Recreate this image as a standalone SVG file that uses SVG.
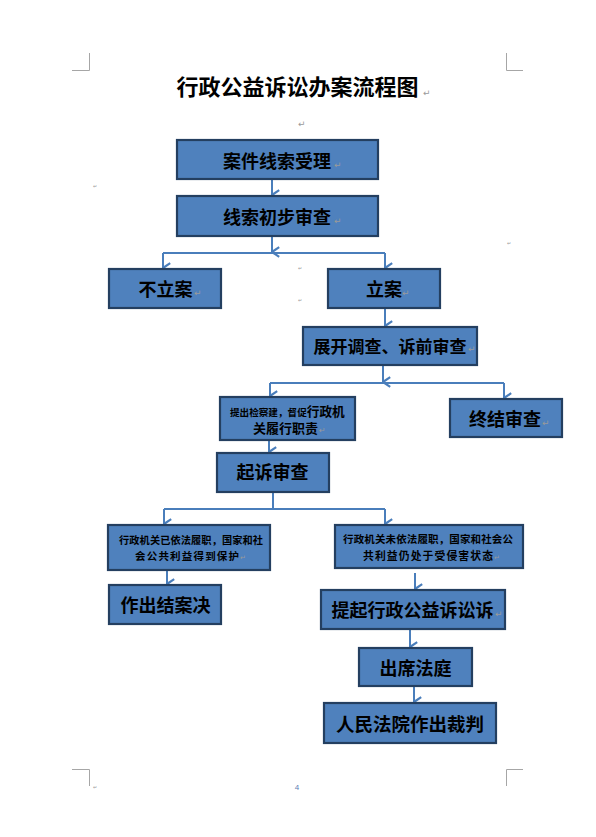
<svg xmlns="http://www.w3.org/2000/svg" width="596" height="837" viewBox="0 0 596 837">
<defs>
<marker id="ah" markerUnits="userSpaceOnUse" markerWidth="12" markerHeight="10" refX="5" refY="7" orient="auto-start-reverse" viewBox="0 0 10 8">
<path d="M1,1 L5,7 L9,1" fill="none" stroke="#4a7ebb" stroke-width="1.8"/>
</marker>
</defs>
<style>
.box{fill:#4f81bd;stroke:#243f60;stroke-width:2.2}
.t{font-family:"Noto Sans CJK SC","Noto Sans CJK JP",sans-serif;font-weight:700;fill:#000;text-anchor:middle}
.s{font-family:"Noto Sans CJK SC",sans-serif;font-weight:700;fill:#000}
.c{fill:none;stroke:#4a7ebb;stroke-width:2}
.ca{fill:none;stroke:#4a7ebb;stroke-width:2;marker-end:url(#ah)}
.pm{font-family:"DejaVu Sans",sans-serif;fill:#9a9a9a}
.crop{fill:none;stroke:#a6a6a6;stroke-width:1}
</style>
<rect width="596" height="837" fill="#fff"/>
<g id="page-marks">
<path class="crop" d="M89.5,53 V70.5 H72 M506.5,53 V70.5 H523 M72,769.5 H89.5 V786 M523,769.5 H506.5 V786"/>
<text x="297" y="790" font-family="Liberation Sans,sans-serif" font-size="8" fill="#5b7fb5" text-anchor="middle">4</text>
<text class="pm" x="298" y="127" font-size="9">↵</text>
<text class="pm" x="93" y="188" font-size="5">↵</text>
<text class="pm" x="298" y="270" font-size="5">↵</text>
<text class="pm" x="298" y="302" font-size="5">↵</text>
<text class="pm" x="507" y="245" font-size="5">↵</text>
<text class="pm" x="93" y="789" font-size="5">↵</text>
</g>
<g id="title">
<text class="t" x="297.5" y="95" font-size="22" style="font-family:'Noto Sans CJK SC',sans-serif">行政公益诉讼办案流程图</text>
<text class="pm" x="423" y="96" font-size="9">↵</text>
</g>
<g id="connectors">
<path class="ca" d="M272,179 V195"/>
<path class="ca" d="M272,236 V252"/>
<path class="c" d="M163,253 H385"/>
<path class="ca" d="M163,253 V268"/>
<path class="ca" d="M385,253 V268"/>
<path class="ca" d="M385,308 V326"/>
<path class="ca" d="M383,365 V382"/>
<path class="c" d="M270,383 H504"/>
<path class="ca" d="M270,383 V396"/>
<path class="ca" d="M504,383 V398"/>
<path class="ca" d="M269,440 V452"/>
<path class="c" d="M273,492 V509 M164,509 H385"/>
<path class="ca" d="M164,509 V524"/>
<path class="ca" d="M385,509 V524"/>
<path class="ca" d="M167,570 V584"/>
<path class="ca" d="M415,573 V589"/>
<path class="ca" d="M410,629 V647"/>
<path class="ca" d="M414,686 V702"/>
</g>
<g id="n1"><rect class="box" x="177" y="140" width="201" height="39"/><text class="t" x="277" y="168" font-size="18">案件线索受理</text><text class="pm" x="334" y="168" font-size="9">↵</text></g>
<g id="n2"><rect class="box" x="177" y="196" width="201" height="40"/><text class="t" x="277" y="224" font-size="18">线索初步审查</text><text class="pm" x="334" y="224" font-size="9">↵</text></g>
<g id="n3"><rect class="box" x="109" y="269" width="112" height="39"/><text class="t" x="165.5" y="296" font-size="18">不立案</text><text class="pm" x="194" y="296" font-size="9">↵</text></g>
<g id="n4"><rect class="box" x="328" y="269" width="112" height="39"/><text class="t" x="384" y="296" font-size="18">立案</text><text class="pm" x="402" y="296" font-size="9">↵</text></g>
<g id="n5"><rect class="box" x="303" y="327" width="174" height="38"/><text class="t" x="390" y="353" font-size="17">展开调查、诉前审查</text><text class="pm" x="468" y="352" font-size="9">↵</text></g>
<g id="n6"><rect class="box" x="220" y="397" width="135" height="43"/>
<text class="s" x="230" y="416" font-size="9.6">提出检察建，督促<tspan font-size="12.7">行政机</tspan></text>
<text class="s" x="253" y="433" font-size="13">关履行职责</text><text class="pm" x="319" y="433" font-size="8">↵</text></g>
<g id="n7"><rect class="box" x="450" y="399" width="112" height="38"/><text class="t" x="505" y="426" font-size="18">终结审查</text><text class="pm" x="542" y="426" font-size="9">↵</text></g>
<g id="n8"><rect class="box" x="217" y="453" width="112" height="39"/><text class="t" x="272.5" y="479" font-size="18">起诉审查</text></g>
<g id="n9"><rect class="box" x="108" y="525" width="162" height="45"/>
<text class="s" x="119" y="544" font-size="10.2" textLength="144">行政机关已依法履职，国家和社</text>
<text class="s" x="135" y="560" font-size="10.5" textLength="104">会公共利益得到保护</text><text class="pm" x="240" y="560" font-size="7">↵</text></g>
<g id="n10"><rect class="box" x="335" y="525" width="188" height="43"/>
<text class="s" x="343" y="543" font-size="10.5" textLength="170">行政机关未依法履职，国家和社会公</text>
<text class="s" x="363" y="560" font-size="10.8" textLength="130">共利益仍处于受侵害状态</text><text class="pm" x="494" y="560" font-size="7">↵</text></g>
<g id="n11"><rect class="box" x="109" y="585" width="112" height="39"/><text class="t" x="165.5" y="612" font-size="18">作出结案决</text></g>
<g id="n12"><rect class="box" x="321" y="590" width="184" height="39"/><text class="t" x="412.5" y="617" font-size="18">提起行政公益诉讼诉</text><text class="pm" x="495" y="617" font-size="9">↵</text></g>
<g id="n13"><rect class="box" x="359" y="648" width="113" height="38"/><text class="t" x="415.5" y="675" font-size="18">出席法庭</text></g>
<g id="n14"><rect class="box" x="324" y="703" width="172" height="40"/><text class="t" x="410" y="731" font-size="18.5">人民法院作出裁判</text></g>
</svg>
